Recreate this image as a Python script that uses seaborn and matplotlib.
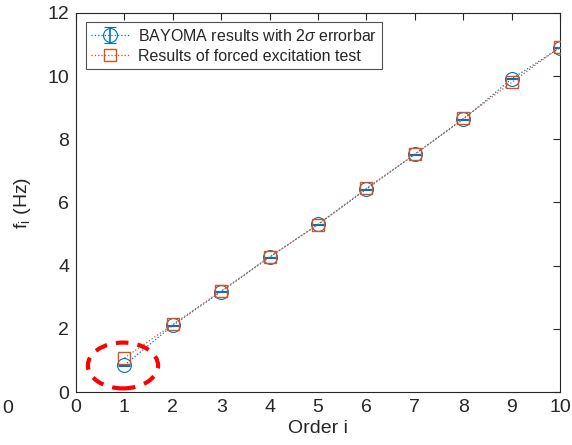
import numpy as np
import pandas as pd
import seaborn as sns
import matplotlib.pyplot as plt
from matplotlib.patches import Ellipse

# mode orders and identified frequencies (Hz)
order = [1, 2, 3, 4, 5, 6, 7, 8, 9, 10]
f_bayoma = [0.85, 2.11, 3.18, 4.27, 5.31, 6.42, 7.53, 8.63, 9.91, 10.90]
err_2sigma = [0.015, 0.015, 0.015, 0.015, 0.015, 0.015, 0.015, 0.015, 0.015, 0.015]
f_forced = [1.08, 2.14, 3.20, 4.28, 5.30, 6.45, 7.52, 8.66, 9.80, 10.92]

blue = '#0072BD'
orange = '#D95319'

sns.set_style('white')
plt.rcParams['font.family'] = ['Liberation Sans', 'DejaVu Sans']
plt.rcParams['mathtext.fontset'] = 'custom'
plt.rcParams['mathtext.rm'] = 'Liberation Sans'
plt.rcParams['mathtext.it'] = 'Liberation Sans:italic'

fig = plt.figure(figsize=(5.72, 4.45), dpi=100)
ax = fig.add_axes([0.1329, 0.119, 0.8462, 0.852])

df = pd.DataFrame({'order': order, 'forced': f_forced})

eb = ax.errorbar(order, f_bayoma, yerr=err_2sigma, fmt='o', ls=':', color=blue,
                 ms=10, mfc='none', mew=0.8, lw=0.9, capsize=4, elinewidth=1.2,
                 capthick=1.2, label='BAYOMA results with 2$\\sigma$ errorbar', zorder=3)
sns.lineplot(data=df, x='order', y='forced', ax=ax, color=orange, ls=':',
             lw=0.9, marker='s', ms=8.5, mfc='none', mec=orange, mew=1.0,
             label='Results of forced excitation test', zorder=4)

# highlight the first mode
ax.add_patch(Ellipse((0.97, 0.84), 1.45, 1.45, fill=False, ec='red',
                     lw=3, ls=(0, (3, 2.2)), zorder=5))

ax.set_xlim(0, 10)
ax.set_ylim(0, 12)
ax.set_xticks(range(0, 11))
ax.set_yticks(range(0, 13, 2))
ax.set_xlabel('Order i', fontsize=14, labelpad=3)
ax.set_ylabel('f$_\\mathrm{i}$ (Hz)', fontsize=14, labelpad=10)
ax.tick_params(direction='in', length=5, width=0.8, labelsize=14,
               top=True, right=True, colors='#262626', pad=5)
for s in ax.spines.values():
    s.set_color('#262626')
    s.set_linewidth(0.8)

handles, labels = ax.get_legend_handles_labels()
idx = [labels.index('BAYOMA results with 2$\\sigma$ errorbar'),
       labels.index('Results of forced excitation test')]
leg = ax.legend([handles[i] for i in idx], [labels[i] for i in idx],
                loc='upper left', bbox_to_anchor=(0.02, 0.975), fontsize=11.5,
                frameon=True, fancybox=False, edgecolor='#262626',
                borderpad=0.35, handlelength=2.4, handletextpad=0.5,
                labelspacing=0.3, borderaxespad=0)
leg.get_frame().set_linewidth(0.8)

# label fragment at the left edge
fig.text(0.004, 0.083, '0', fontsize=14, ha='left', va='center', color='#262626')

fig.savefig('out.png', dpi=100)
